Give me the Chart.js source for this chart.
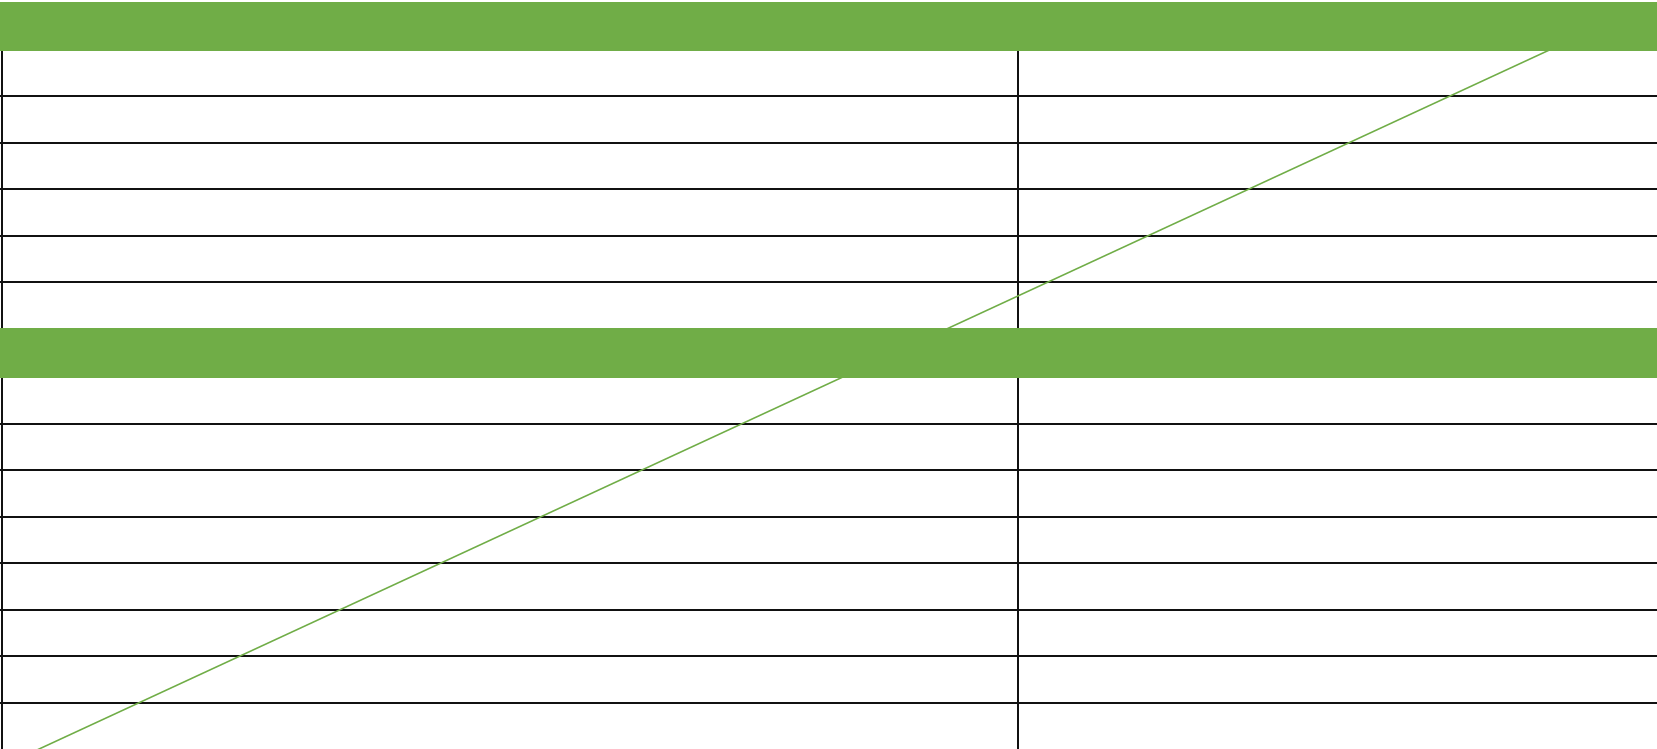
<!DOCTYPE html>
<html>
<head>
<meta charset="utf-8">
<script src="https://cdn.jsdelivr.net/npm/chart.js@4/dist/chart.umd.min.js"></script>
<style>
  html, body { margin: 0; padding: 0; background: #ffffff; }
  #wrap { width: 1657px; height: 749px; }
</style>
</head>
<body>
<div id="wrap"><canvas id="c" width="1657" height="749"></canvas></div>
<script>
// ---- data (units of the chart's own linear scales) ----
const rowLines = [96, 142.7, 189, 235.7, 282, 423.8, 470.3, 516.8, 563.3, 609.8, 656.3, 702.8];
const columnLines = [2, 1018];
const bandTops = [2, 328];
const bandBottoms = [51, 378];
const trendX = [0, 1657];
const trendY = [767.1, 0.2];

const GREEN = '#70AD47';
const xMin = 0, xMax = 1657, yMin = 2, yMax = 749;

const datasets = [];
bandTops.forEach((top, i) => {
  datasets.push({
    type: 'line',
    data: [{x: xMin, y: top}, {x: xMax, y: top}],
    borderWidth: 0, pointRadius: 0, fill: false, order: 0,
    borderColor: 'rgba(0,0,0,0)'
  });
  datasets.push({
    type: 'line',
    data: [{x: xMin, y: bandBottoms[i]}, {x: xMax, y: bandBottoms[i]}],
    borderWidth: 0, pointRadius: 0, fill: '-1', order: 0,
    borderColor: 'rgba(0,0,0,0)', backgroundColor: GREEN
  });
});
datasets.push({
  type: 'line',
  data: trendX.map((x, i) => ({x, y: trendY[i]})),
  borderColor: GREEN, borderWidth: 1.6, pointRadius: 0, fill: false, order: 5
});

new Chart(document.getElementById('c'), {
  type: 'line',
  data: { datasets },
  options: {
    responsive: false,
    devicePixelRatio: 1,
    animation: false,
    layout: { padding: { top: 2, left: 0, right: 0, bottom: 0 } },
    plugins: { legend: { display: false }, tooltip: { enabled: false }, title: { display: false } },
    scales: {
      x: {
        type: 'linear', min: xMin, max: xMax,
        border: { display: false },
        ticks: { display: false },
        grid: { drawTicks: false, tickLength: 0, color: '#111111', lineWidth: 2 },
        afterBuildTicks: (s) => { s.ticks = columnLines.map(v => ({ value: v })); }
      },
      y: {
        type: 'linear', min: yMin, max: yMax, reverse: true,
        border: { display: false },
        ticks: { display: false },
        grid: { drawTicks: false, tickLength: 0, color: '#111111', lineWidth: 2 },
        afterBuildTicks: (s) => { s.ticks = rowLines.map(v => ({ value: v })); }
      }
    }
  }
});
</script>
</body>
</html>
